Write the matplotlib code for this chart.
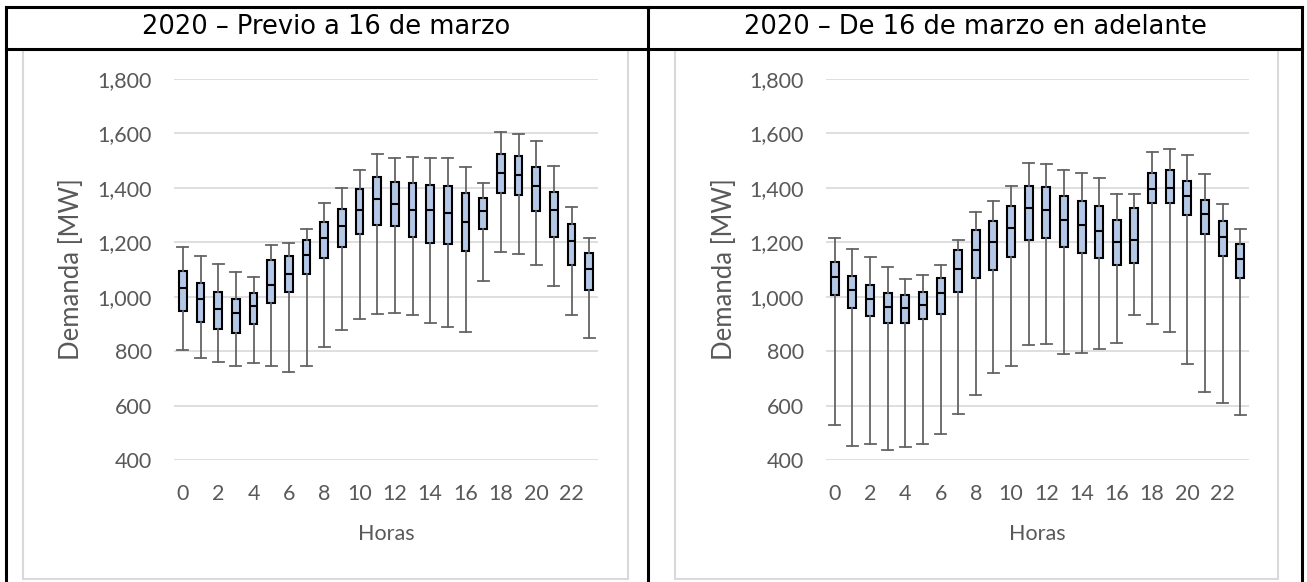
import matplotlib
matplotlib.use('Agg')
import matplotlib.pyplot as plt
from matplotlib.lines import Line2D
from matplotlib.patches import Rectangle

W, H = 1307, 582

hours = list(range(24))
xtick_hours = list(range(0, 24, 2))
yticks = [400, 600, 800, 1000, 1200, 1400, 1600, 1800]

titles = ['2020 – Previo a 16 de marzo', '2020 – De 16 de marzo en adelante']

# demanda horaria [MW] antes del 16 de marzo
prev_low = [805, 775, 759, 744, 755, 746, 724, 746, 817, 877, 917, 938,
            941, 933, 903, 889, 872, 1056, 1164, 1156, 1118, 1040, 931, 849]
prev_q1 = [946, 906, 880, 866, 898, 976, 1019, 1085, 1144, 1184, 1230, 1263,
           1260, 1218, 1199, 1192, 1169, 1249, 1382, 1373, 1314, 1220, 1118, 1024]
prev_med = [1031, 992, 954, 940, 966, 1042, 1082, 1155, 1216, 1259, 1317, 1360,
            1339, 1318, 1317, 1309, 1273, 1314, 1456, 1448, 1405, 1319, 1204, 1101]
prev_q3 = [1095, 1050, 1018, 993, 1012, 1134, 1151, 1208, 1275, 1324, 1396, 1440,
           1422, 1419, 1410, 1406, 1380, 1364, 1525, 1518, 1476, 1384, 1267, 1159]
prev_high = [1183, 1150, 1122, 1090, 1072, 1191, 1199, 1247, 1344, 1398, 1467, 1524,
             1510, 1513, 1510, 1510, 1477, 1418, 1604, 1597, 1572, 1479, 1328, 1214]

# demanda horaria [MW] del 16 de marzo en adelante
post_low = [529, 452, 459, 436, 448, 457, 494, 570, 640, 718, 747, 821,
            827, 791, 793, 808, 829, 932, 900, 870, 754, 650, 608, 565]
post_q1 = [1008, 959, 928, 903, 902, 917, 938, 1017, 1068, 1099, 1145, 1210,
           1214, 1182, 1159, 1143, 1116, 1125, 1345, 1346, 1302, 1232, 1148, 1069]
post_med = [1073, 1026, 991, 963, 958, 969, 1014, 1102, 1171, 1200, 1251, 1327,
            1320, 1282, 1263, 1242, 1202, 1208, 1397, 1401, 1370, 1303, 1218, 1140]
post_q3 = [1128, 1077, 1044, 1012, 1007, 1019, 1069, 1172, 1244, 1279, 1334, 1406,
           1402, 1371, 1353, 1334, 1281, 1325, 1454, 1465, 1427, 1357, 1278, 1192]
post_high = [1214, 1177, 1145, 1110, 1064, 1078, 1116, 1210, 1312, 1352, 1405, 1491,
             1488, 1466, 1455, 1438, 1378, 1379, 1530, 1544, 1520, 1450, 1339, 1247]

TXT = '#595959'
GRID = '#D9D9D9'
BOX = '#B4C7E7'


def px_x(x):
    return x / W


def px_y(y):
    return 1 - y / H


def make_stats(low, q1, med, q3, high):
    stats = []
    for i in range(len(med)):
        stats.append({'whislo': low[i], 'q1': q1[i], 'med': med[i],
                      'q3': q3[i], 'whishi': high[i], 'fliers': []})
    return stats


def draw_panel(ax, stats):
    ax.bxp(stats, positions=hours, widths=0.45, capwidths=0.62,
           showfliers=False, patch_artist=True,
           boxprops=dict(facecolor=BOX, edgecolor='black', linewidth=1.5),
           medianprops=dict(color='black', linewidth=1.5),
           whiskerprops=dict(color='#646464', linewidth=1.3),
           capprops=dict(color='#646464', linewidth=1.3))
    ax.set_xlim(-0.5, 23.5)
    ax.set_ylim(400, 1800)
    ax.set_yticks(yticks)
    ax.set_yticklabels(['{:,}'.format(v) for v in yticks])
    ax.set_xticks(xtick_hours)
    ax.set_xticklabels([str(h) for h in xtick_hours])
    ax.tick_params(axis='both', length=0, colors=TXT, labelsize=15.5)
    ax.tick_params(axis='y', pad=16)
    ax.tick_params(axis='x', pad=17)
    ax.yaxis.grid(True, color=GRID, linewidth=1.2)
    ax.set_axisbelow(True)
    for s in ax.spines.values():
        s.set_visible(False)
    ax.set_xlabel('Horas', color=TXT, fontsize=15.5)
    ax.set_ylabel('Demanda [MW]', color=TXT, fontsize=18.5)
    ax.xaxis.set_label_coords(0.5, (460 - 524) / 381)


plt.rcParams['font.family'] = ['Lato', 'DejaVu Sans']
fig = plt.figure(figsize=(W / 100, H / 100), dpi=100)

# marcos grises de cada gráfico
for x0, x1 in [(23, 628), (675, 1278)]:
    fig.add_artist(Rectangle((px_x(x0), px_y(579)), px_x(x1 - x0), (579 - 50) / H,
                             transform=fig.transFigure, fill=False,
                             edgecolor=GRID, linewidth=1.5))

bottom = px_y(460)
height = (460 - 79) / H
ax1 = fig.add_axes([px_x(174), bottom, px_x(424), height])
ax2 = fig.add_axes([px_x(826), bottom, px_x(423), height])

draw_panel(ax1, make_stats(prev_low, prev_q1, prev_med, prev_q3, prev_high))
draw_panel(ax2, make_stats(post_low, post_q1, post_med, post_q3, post_high))
ax1.yaxis.set_label_coords((84 - 174) / 424, 0.5)
ax2.yaxis.set_label_coords((737 - 826) / 423, 0.5)

# tabla con los encabezados
lines = [((5.5, 1301.5), (6.5, 6.5)), ((5.5, 1301.5), (48.5, 48.5)),
         ((5.5, 5.5), (6.5, 582)), ((1301.5, 1301.5), (6.5, 582)),
         ((648, 648), (6.5, 582))]
for xs, ys in lines:
    fig.add_artist(Line2D([px_x(v) for v in xs], [px_y(v) for v in ys],
                          transform=fig.transFigure, color='black', linewidth=2.2))

fig.text(px_x(326.5), px_y(27), titles[0], ha='center', va='center',
         fontsize=18.5, family='DejaVu Sans', color='black')
fig.text(px_x(975), px_y(27), titles[1], ha='center', va='center',
         fontsize=18.5, family='DejaVu Sans', color='black')

fig.savefig('out.png', dpi=100)
